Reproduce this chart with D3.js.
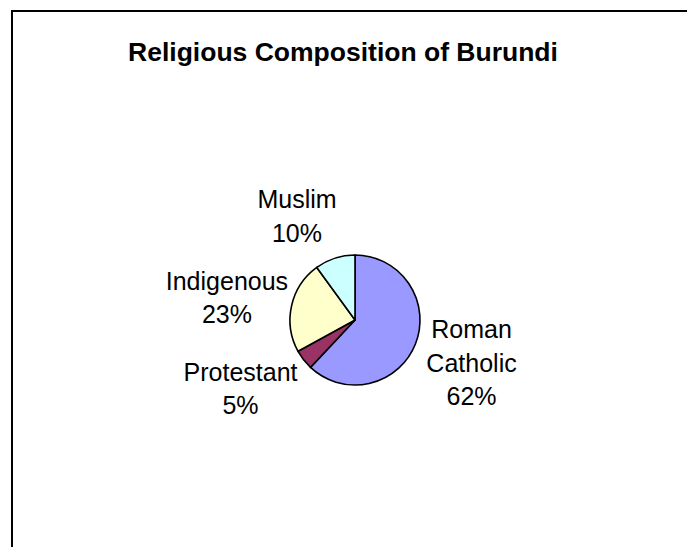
<!DOCTYPE html>
<html>
<head>
<meta charset="utf-8">
<script src="https://cdn.jsdelivr.net/npm/d3@7"></script>
<style>
  html, body { margin: 0; padding: 0; background: #fff; }
  svg { display: block; }
</style>
</head>
<body>
<svg id="chart" width="687" height="547"></svg>
<script>
// Religious composition of Burundi, share of population (%)
const categories = ["Roman Catholic", "Protestant", "Indigenous", "Muslim"];
const shares = [62, 5, 23, 10];
const labelLines = [["Roman", "Catholic"], ["Protestant"], ["Indigenous"], ["Muslim"]];
const sliceColors = ["#9999FF", "#993366", "#FFFFCC", "#CCFFFF"];

const svg = d3.select("#chart");
const W = 687, H = 547;

// chart area frame (runs off the right and bottom edges)
svg.append("rect")
  .attr("x", 12).attr("y", 11)
  .attr("width", W + 20).attr("height", H + 20)
  .attr("fill", "#fff")
  .attr("stroke", "#000")
  .attr("stroke-width", 2);

svg.append("text")
  .attr("x", 343).attr("y", 61)
  .attr("text-anchor", "middle")
  .attr("font-family", "'Liberation Sans', Arial, sans-serif")
  .attr("font-weight", "bold")
  .attr("font-size", 26.5)
  .text("Religious Composition of Burundi");

const cx = 355, cy = 320, r = 65;
const data = categories.map((c, i) => ({
  name: c, value: shares[i], color: sliceColors[i],
  lines: labelLines[i].concat([shares[i] + "%"])
}));

const pie = d3.pie().value(d => d.value).sort(null);
const arc = d3.arc().innerRadius(0).outerRadius(r);
const arcs = pie(data);

const g = svg.append("g").attr("transform", `translate(${cx},${cy})`);
g.selectAll("path")
  .data(arcs)
  .join("path")
  .attr("d", arc)
  .attr("fill", d => d.data.color)
  .attr("stroke", "#000")
  .attr("stroke-width", 1.6)
  .attr("stroke-linejoin", "round");

// label block centres, polar around the pie centre (degrees clockwise from 12 o'clock, radius in pie radii)
const labelAngle = [110.1, -120.8, -80.1, -29.15];
const labelDist = [1.909, 2.05, 2.0, 1.832];
const lineH = 33.4;

const labels = svg.append("g")
  .attr("font-family", "'Liberation Sans', Arial, sans-serif")
  .attr("font-size", 25)
  .attr("fill", "#000")
  .attr("text-anchor", "middle");

arcs.forEach((a, i) => {
  const ang = labelAngle[i] * Math.PI / 180;
  const rr = r * labelDist[i];
  const lx = cx + Math.sin(ang) * rr;
  const ly = cy - Math.cos(ang) * rr;
  const n = a.data.lines.length;
  const t = labels.append("text");
  a.data.lines.forEach((ln, k) => {
    t.append("tspan")
      .attr("x", lx)
      .attr("y", ly + (k - (n - 1) / 2) * lineH + 9)
      .text(ln);
  });
});
</script>
</body>
</html>
